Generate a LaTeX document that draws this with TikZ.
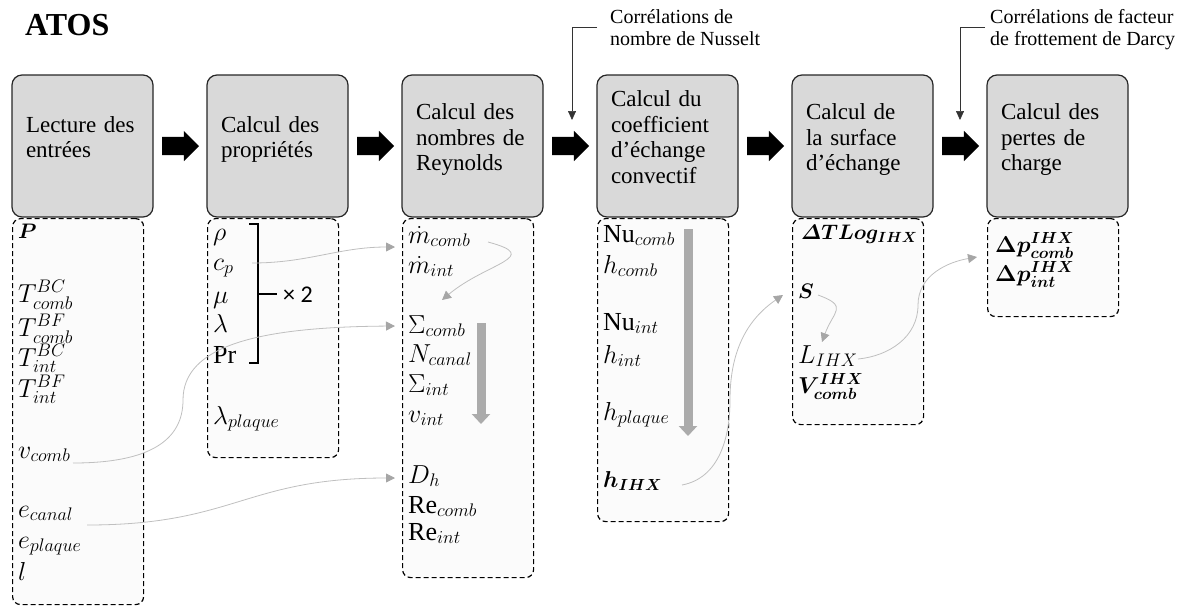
\documentclass[tikz,border=0pt]{standalone}
\usepackage{fix-cm}
\usepackage{amsmath,bm}
\usepackage{fontspec}
\setmainfont{Liberation Serif}
\newfontfamily\calibri{Carlito}
\usetikzlibrary{arrows.meta,shapes.arrows,positioning}

\newcommand{\hstrut}{\rule{0pt}{17pt}}
\newcommand{\dstrut}{\rule[-19pt]{0pt}{19pt}}

\begin{document}
\begin{tikzpicture}[x=1pt,y=1pt,node distance=54pt]

	\tikzset{stepbox/.style={draw=black!85, line width=1.2pt, fill=gray!30,
			rounded corners=10pt, minimum width=141pt, minimum height=142pt,
			text width=113pt, inner xsep=14pt, inner ysep=0pt, outer sep=0pt,
			align=left, font=\fontsize{23}{25.5}\selectfont},
		bigarrow/.style={single arrow, fill=black, draw=none, inner xsep=0pt,
			inner ysep=9pt, outer sep=0pt, minimum height=37pt,
			single arrow head extend=6pt},
		dashbox/.style={draw, line width=1.2pt, dash pattern=on 5pt off 3pt,
			rounded corners=8pt, fill=gray!3, minimum width=131pt,
			anchor=north west, inner sep=0pt},
		item/.style={anchor=base west, inner sep=0pt,
			font=\fontsize{26}{30}\selectfont},
		bolditem/.style={item, font=\fontsize{21}{25}\selectfont},
		bigbold/.style={item, font=\fontsize{23}{27}\selectfont},
		link/.style={draw=gray!50, line width=0.8pt,
			-{Triangle[length=9pt,width=9pt,color=gray!70]}},
		seqarrow/.style={draw=gray!66, line width=9pt,
			-{Triangle[length=10pt,width=18pt]}},
		note/.style={anchor=north west, inner sep=0pt, align=left,
			font=\fontsize{20}{22.5}\selectfont},
		noteline/.style={draw=black!80, line width=0.7pt,
			-{Triangle[length=9pt,width=8pt]}}}

	\useasboundingbox (0,0) rectangle (1183,-606);

	\node[anchor=base west, inner sep=0pt, font=\fontsize{32}{36}\selectfont\bfseries] (atos) at (25,-35) {ATOS};

	\node[stepbox, anchor=north west] (lect) at (12,-75) {\hstrut Lecture des\\entrées\dstrut};
	\node[stepbox, right=of lect] (prop) {\hstrut Calcul des\\propriétés\dstrut};
	\node[stepbox, right=of prop] (reyn) {\hstrut Calcul des\\nombres de\\Reynolds\dstrut};
	\node[stepbox, right=of reyn] (conv) {\hstrut Calcul du\\coefficient\\d’échange\\convectif\dstrut};
	\node[stepbox, right=of conv] (surf) {\hstrut Calcul de\\la surface\\d’échange\dstrut};
	\node[stepbox, right=of surf] (pdc) {\hstrut Calcul des\\pertes de\\charge\dstrut};

	\node[bigarrow, right=9pt of lect] (a1) {};
	\node[bigarrow, right=9pt of prop] (a2) {};
	\node[bigarrow, right=9pt of reyn] (a3) {};
	\node[bigarrow, right=9pt of conv] (a4) {};
	\node[bigarrow, right=9pt of surf] (a5) {};

	\node[dashbox, minimum height=386pt] (d1) at ([yshift=-1pt]lect.south west) {};
	\node[dashbox, minimum height=239pt] (d2) at ([yshift=-1pt]prop.south west) {};
	\node[dashbox, minimum height=359pt] (d3) at ([yshift=-1pt]reyn.south west) {};
	\node[dashbox, minimum height=303pt] (d4) at ([yshift=-1pt]conv.south west) {};
	\node[dashbox, minimum height=206pt] (d5) at ([yshift=-1pt]surf.south west) {};
	\node[dashbox, minimum height=98pt] (d6) at ([yshift=-1pt]pdc.south west) {};

	\node[bolditem] (P) at (18,-238) {$\bm{P}$};
	\node[item] (tbccomb) at (18,-302) {$T^{BC}_{comb}$};
	\node[item] (tbfcomb) at (18,-336) {$T^{BF}_{comb}$};
	\node[item] (tbcint) at (18,-366) {$T^{BC}_{int}$};
	\node[item] (tbfint) at (18,-397) {$T^{BF}_{int}$};
	\node[item] (vcomb) at (18,-458) {$v_{comb}$};
	\node[item] (ecanal) at (18,-517) {$e_{canal}$};
	\node[item] (eplaque) at (18,-548) {$e_{plaque}$};
	\node[item] (l) at (18,-580) {$l$};

	\node[item] (rho) at (213,-240) {$\rho$};
	\node[item] (cp) at (213,-270) {$c_p$};
	\node[item] (mu) at (213,-303) {$\mu$};
	\node[item] (lambda) at (213,-332) {$\lambda$};
	\node[item] (Pr) at (213,-363) {$\mathrm{Pr}$};
	\node[item] (lplaque) at (213,-424) {$\lambda_{plaque}$};
	\draw[line width=1.3pt] (249,-224) -- (258,-224) -- (258,-363) -- (249,-363)
		(258,-294) -- (277,-294);
	\node[item, font=\fontsize{24}{28}\calibri] (fois) at (283,-302) {× 2};

	\node[item] (mcomb) at (408,-243) {$\dot{m}_{comb}$};
	\node[item] (mint) at (408,-273) {$\dot{m}_{int}$};
	\node[item] (sigcomb) at (408,-333) {$\Sigma_{comb}$};
	\node[item] (ncanal) at (408,-362) {$N_{canal}$};
	\node[item] (sigint) at (408,-392) {$\Sigma_{int}$};
	\node[item] (vint) at (408,-422) {$v_{int}$};
	\node[item] (dh) at (408,-483) {$D_h$};
	\node[item] (recomb) at (408,-513) {$\mathrm{Re}_{comb}$};
	\node[item] (reint) at (408,-540) {$\mathrm{Re}_{int}$};

	\node[item] (nucomb) at (603,-242) {$\mathrm{Nu}_{comb}$};
	\node[item] (hcomb) at (603,-273) {$h_{comb}$};
	\node[item] (nuint) at (603,-330) {$\mathrm{Nu}_{int}$};
	\node[item] (hint) at (603,-363) {$h_{int}$};
	\node[item] (hplaque) at (603,-420) {$h_{plaque}$};
	\node[bigbold] (hihx) at (603,-487) {$\bm{h_{IHX}}$};

	\node[bolditem] (dtlog) at (801,-239) {$\bm{\varDelta TLog_{IHX}}$};
	\node[bolditem] (S) at (798,-298) {$\bm{S}$};
	\node[item] (lihx) at (798,-363) {$L_{IHX}$};
	\node[bigbold] (vihx) at (798,-393) {$\bm{V^{IHX}_{comb}}$};

	\node[bigbold] (dpcomb) at (995,-252) {$\bm{\Delta p^{IHX}_{comb}}$};
	\node[bigbold] (dpint) at (995,-281) {$\bm{\Delta p^{IHX}_{int}}$};

	\draw[seqarrow] (481,-323) -- (481,-424);
	\draw[seqarrow] (688,-229) -- (688,-436);

	\draw[link] ([xshift=39pt,yshift=7pt]cp.base west) to[out=0,in=180] ([xshift=-13pt,yshift=-4pt]mcomb.base west);
	\draw[link] ([xshift=55pt,yshift=-5pt]vcomb.base west) .. controls (150,-463) and (183,-440) .. (183,-400)
		.. controls (183,-345) and (260,-327) .. ([xshift=-13pt,yshift=7pt]sigcomb.base west);
	\draw[link] ([xshift=69pt,yshift=-8pt]ecanal.base west) .. controls (235,-525) and (245,-478) .. ([xshift=-13pt,yshift=5pt]dh.base west);
	\draw[link] ([xshift=80pt,yshift=1pt]mcomb.base west) to[out=-15,in=40,looseness=2] ([xshift=34pt,yshift=33pt]sigcomb.base west);
	\draw[link] ([xshift=79pt,yshift=2pt]hihx.base west) .. controls (719,-478) and (730,-438) .. (730,-400)
		.. controls (730,-354) and (745,-321) .. ([xshift=-15pt,yshift=3pt]S.base west);
	\draw[link] ([xshift=20pt,yshift=3pt]S.base west) to[out=-20,in=70,looseness=1.8] ([xshift=24pt,yshift=21pt]lihx.base west);
	\draw[link] ([xshift=60pt,yshift=4pt]lihx.base west) .. controls (889,-356) and (918,-337) .. (918,-305)
		.. controls (918,-275) and (948,-262) .. ([xshift=-18pt,yshift=-5pt]dpcomb.base west);

	\node[note] (nus) at (610,-9) {Corrélations de\\nombre de Nusselt};
	\node[note] (darcy) at (990,-9) {Corrélations de facteur\\de frottement de Darcy};
	\draw[noteline] ([xshift=-13pt]nus.west) -| ([xshift=20pt,yshift=26pt]a3.west);
	\draw[noteline] ([xshift=-5pt,yshift=2pt]darcy.west) -| ([xshift=18pt,yshift=26pt]a5.west);

\end{tikzpicture}
\end{document}
